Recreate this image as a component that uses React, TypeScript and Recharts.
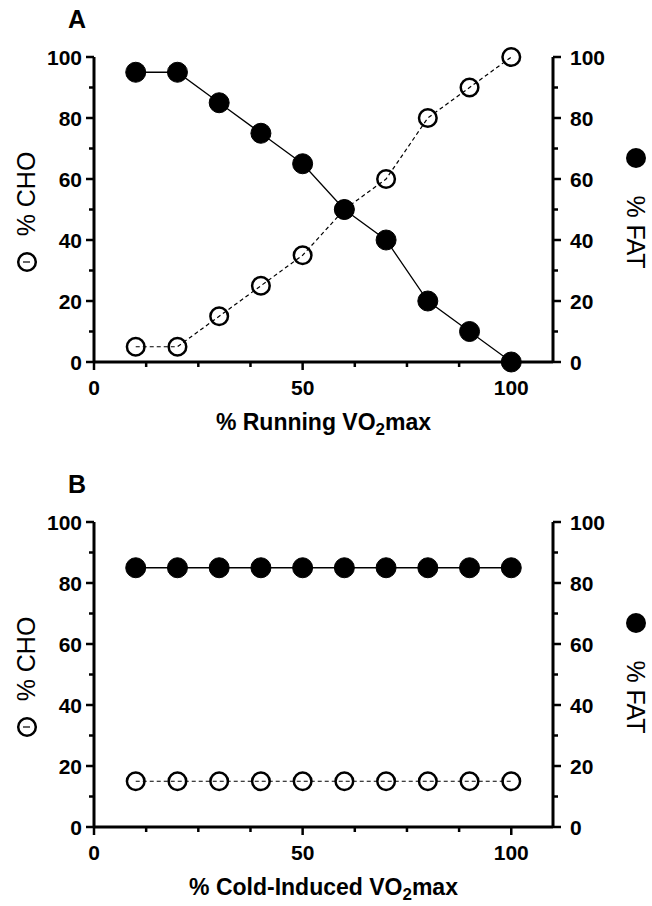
import React from 'react';
import { LineChart, Line, XAxis, YAxis } from 'recharts';

const intensity = [10, 20, 30, 40, 50, 60, 70, 80, 90, 100];
const runningCHO = [5, 5, 15, 25, 35, 50, 60, 80, 90, 100];
const runningFAT = [95, 95, 85, 75, 65, 50, 40, 20, 10, 0];
const coldCHO = [15, 15, 15, 15, 15, 15, 15, 15, 15, 15];
const coldFAT = [85, 85, 85, 85, 85, 85, 85, 85, 85, 85];

const xTicks = [0, 12.5, 25, 37.5, 50, 62.5, 75, 87.5, 100];
const xLabelTicks = [0, 50, 100];
const yTicks = [0, 10, 20, 30, 40, 50, 60, 70, 80, 90, 100];
const yLabelTicks = [0, 20, 40, 60, 80, 100];

const FONT = '"Liberation Sans", Arial, Helvetica, sans-serif';
const W = 652;
const H = 441;
const PANEL_B_TOP = 465;

function buildRows(cho: number[], fat: number[]) {
  return intensity.map((x, i) => ({ x, cho: cho[i], fat: fat[i] }));
}

const XTick = (props: any) => {
  const { x, y, payload } = props;
  const v = payload.value;
  const major = xLabelTicks.includes(v);
  return (
    <g>
      <line x1={x} y1={y} x2={x} y2={y + (major ? 8 : 5)} stroke="#000" strokeWidth={2.5} />
      {major && (
        <text x={x} y={y + 33} textAnchor="middle" fontFamily={FONT} fontWeight="bold" fontSize={21} fill="#000">
          {v}
        </text>
      )}
    </g>
  );
};

const LeftTick = (props: any) => {
  const { x, y, payload } = props;
  const v = payload.value;
  const major = yLabelTicks.includes(v);
  return (
    <g>
      <line x1={x - (major ? 8 : 5)} y1={y} x2={x} y2={y} stroke="#000" strokeWidth={2.5} />
      {major && (
        <text x={x - 12} y={y + 7.5} textAnchor="end" fontFamily={FONT} fontWeight="bold" fontSize={21} fill="#000">
          {v}
        </text>
      )}
    </g>
  );
};

const RightTick = (props: any) => {
  const { x, y, payload } = props;
  const v = payload.value;
  const major = yLabelTicks.includes(v);
  return (
    <g>
      <line x1={x} y1={y} x2={x + (major ? 8 : 5)} y2={y} stroke="#000" strokeWidth={2.5} />
      {major && (
        <text x={x + 17} y={y + 7.5} textAnchor="start" fontFamily={FONT} fontWeight="bold" fontSize={21} fill="#000">
          {v}
        </text>
      )}
    </g>
  );
};

const OpenDot = (props: any) => {
  const { cx, cy, index } = props;
  if (cx == null || cy == null) return <g key={`o${index}`} />;
  return <circle key={`o${index}`} cx={cx} cy={cy} r={8.8} fill="none" stroke="#000" strokeWidth={2.5} />;
};

const FilledDot = (props: any) => {
  const { cx, cy, index } = props;
  if (cx == null || cy == null) return <g key={`f${index}`} />;
  return <circle key={`f${index}`} cx={cx} cy={cy} r={10} fill="#000" stroke="#000" strokeWidth={1} />;
};

function Panel({ rows }: { rows: any[] }) {
  return (
    <LineChart
      width={W}
      height={H}
      data={rows}
      margin={{ top: 57, left: 34, right: 39, bottom: 49 }}
    >
      <XAxis
        dataKey="x"
        type="number"
        domain={[0, 110]}
        ticks={xTicks}
        interval={0}
        tickSize={0}
        tickMargin={0}
        tickLine={false}
        tick={<XTick />}
        axisLine={{ stroke: '#000', strokeWidth: 3 }}
        height={30}
        allowDataOverflow
      />
      <YAxis
        yAxisId="left"
        type="number"
        domain={[0, 100]}
        ticks={yTicks}
        interval={0}
        tickSize={0}
        tickMargin={0}
        tickLine={false}
        tick={<LeftTick />}
        axisLine={{ stroke: '#000', strokeWidth: 3 }}
        width={60}
      />
      <YAxis
        yAxisId="right"
        orientation="right"
        type="number"
        domain={[0, 100]}
        ticks={yTicks}
        interval={0}
        tickSize={0}
        tickMargin={0}
        tickLine={false}
        tick={<RightTick />}
        axisLine={{ stroke: '#000', strokeWidth: 3 }}
        width={60}
      />
      <Line
        yAxisId="left"
        dataKey="cho"
        type="linear"
        stroke="#000"
        strokeWidth={1.2}
        strokeDasharray="4 3"
        dot={<OpenDot />}
        activeDot={false}
        isAnimationActive={false}
      />
      <Line
        yAxisId="right"
        dataKey="fat"
        type="linear"
        stroke="#000"
        strokeWidth={1.3}
        dot={<FilledDot />}
        activeDot={false}
        isAnimationActive={false}
      />
    </LineChart>
  );
}

function PanelText({ top, letter, xTitle }: { top: number; letter: string; xTitle: string }) {
  return (
    <g transform={`translate(0, ${top})`}>
      <text x={77} y={28} textAnchor="middle" fontFamily={FONT} fontWeight="bold" fontSize={25} fill="#000">
        {letter}
      </text>
      <text x={323.5} y={430} textAnchor="middle" fontFamily={FONT} fontWeight="bold" fontSize={23} fill="#000">
        {xTitle}
        <tspan fontSize={17} dy={5}>2</tspan>
        <tspan dy={-5}>max</tspan>
      </text>
      <text
        x={35}
        y={194}
        transform="rotate(-90, 35, 194)"
        textAnchor="middle"
        fontFamily={FONT}
        fontSize={25}
        fill="#000"
      >
        % CHO
      </text>
      <circle cx={27} cy={262} r={8.8} fill="none" stroke="#000" strokeWidth={2.5} />
      <line x1={23} y1={262} x2={30} y2={262} stroke="#000" strokeWidth={1.2} />
      <circle cx={636} cy={158} r={10} fill="#000" />
      <text
        x={627}
        y={232}
        transform="rotate(90, 627, 232)"
        textAnchor="middle"
        fontFamily={FONT}
        fontSize={25}
        fill="#000"
      >
        % FAT
      </text>
    </g>
  );
}

export default function App() {
  const rowsA = buildRows(runningCHO, runningFAT);
  const rowsB = buildRows(coldCHO, coldFAT);
  return (
    <div style={{ position: 'absolute', left: 0, top: 0, width: W, height: 906, background: '#fff', overflow: 'hidden' }}>
      <div style={{ position: 'absolute', left: 0, top: 0 }}>
        <Panel rows={rowsA} />
      </div>
      <div style={{ position: 'absolute', left: 0, top: PANEL_B_TOP }}>
        <Panel rows={rowsB} />
      </div>
      <svg
        width={W}
        height={906}
        style={{ position: 'absolute', left: 0, top: 0, pointerEvents: 'none' }}
      >
        <PanelText top={0} letter="A" xTitle="% Running VO" />
        <PanelText top={PANEL_B_TOP} letter="B" xTitle="% Cold-Induced VO" />
      </svg>
    </div>
  );
}
